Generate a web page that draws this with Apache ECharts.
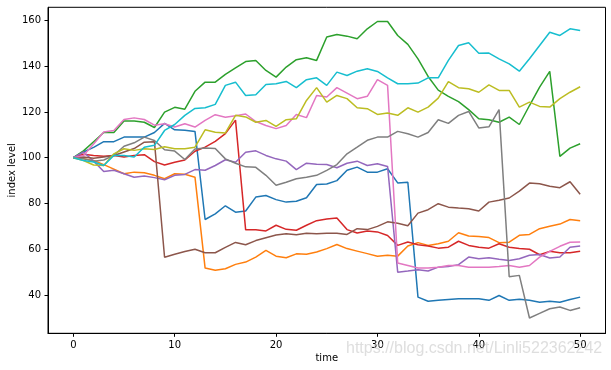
<!DOCTYPE html>
<html>
<head>
<meta charset="utf-8">
<script src="https://cdn.jsdelivr.net/npm/echarts@6/dist/echarts.min.js"></script>
<style>html,body{margin:0;padding:0;background:#fff;}#c{width:611px;height:370px;}</style>
</head>
<body>
<div id="c"></div>
<script>
const time = [0,1,2,3,4,5,6,7,8,9,10,11,12,13,14,15,16,17,18,19,20,21,22,23,24,25,26,27,28,29,30,31,32,33,34,35,36,37,38,39,40,41,42,43,44,45,46,47,48,49,50];
const xTicks = [0,10,20,30,40,50];
const yTicks = [40,60,80,100,120,140,160];

const blue = [100,102.5,104.5,107,107,109,109,109,111,115,112.2,112,111.5,73,75.5,79,76.2,76.7,82.8,83.5,81.7,80.6,81,82.5,88.3,88.5,90,94.5,95.9,93.7,93.7,95.2,89,89.3,39.1,37.3,37.7,38.1,38.4,38.4,38.4,37.7,39.8,37.7,38.2,37.7,36.9,37.3,36.9,38.1,39.1];
const orange = [100,99.6,98.8,97,95,93,93.7,93.4,92.3,90.8,93,92.8,91.5,51.8,50.8,51.5,53.4,54.4,56.6,59.5,57,56.3,58,57.8,58.8,60.3,62.1,60.3,59.2,58.1,57,57.4,57,61.4,62.9,61.7,62.4,63.5,67.2,65.8,65.6,65.1,62.9,63.1,66.1,66.5,69,70.1,71,73,72.5];
const green = [100,103,107,111,111,116,116,115.5,113.2,119.9,122,121.2,129,133,133,136.4,139.2,142,142.5,138.1,135.2,139.6,142.8,143.7,142.5,152.7,153.8,153.1,152,156.3,159.5,159.5,153.4,149.5,143.2,135.5,129.5,126.8,124.5,121,117,116.6,115.5,117.7,114.5,122.8,130.8,137.7,100.6,104.2,106.1];
const red = [100,101.5,101,100.6,101,100.3,101,101.3,98.3,96.8,98,99,102.8,104.6,107.1,110.5,116.4,68.5,68.5,68,70.5,68.7,68.3,70.5,72.5,73.2,73.7,68.6,67.1,68,67.6,66,61.7,63.2,62,61.4,60.5,60.9,63.5,61.7,60.9,60.5,62.4,60.9,60.3,60,57.6,59.1,58.5,58.5,59.1];
const purple = [100,102.5,98.5,94,94.5,93,91.5,92,91.3,90.4,92.3,92.7,94.8,94.5,96.6,99.1,98,102.4,103,101,99.5,98.5,94.8,97.6,97.1,97,95.6,97.6,98.5,96.6,97.4,96.2,50,50.5,51.1,50.5,52.2,52.5,53.3,56.6,55.9,56.3,55.6,55.1,55.9,57.4,57.7,56.2,56.6,60.9,61.4];
const brown = [100,100.3,99.8,100.3,101,102.5,104,106.8,107,56.5,57.8,59,60,58.5,58.5,60.8,63,62,63.8,65,66.2,66.8,66.3,67,66.8,67,67,66.5,69,68.6,70,72,71.4,70.3,75.8,77.3,79.9,78.4,78,77.7,76.7,80.6,81.4,82.4,85.4,88.9,88.6,87.5,86.9,89.5,84];
const pink = [100,101,106,111.2,111.9,116.7,117.4,116.7,114.2,114.8,113.4,114.8,113.4,116.3,118.8,117.7,118.3,119.1,115.8,114.1,112.7,114.1,118.9,117.5,127.2,126.5,130.6,128.2,125.8,126.8,134.1,131.6,54,52.9,51.8,51.8,52.2,52.9,52.9,52.2,52.2,52.2,52.5,52.9,52.2,52.9,56.6,59.1,61.3,63.1,63.2];
const gray = [100,99.5,98.5,99,101,105,106.5,109,107.5,103.5,102.9,99.2,103.8,104.2,104,99.5,97.6,96,95.8,92.3,88,89.3,90.8,91.5,92.3,94.5,97,101.7,104.6,107.6,109,109,111.5,110.5,109,111,116.6,115,118.5,120.2,113,113.5,121,48,48.6,30,32,34,34.8,33.3,34.5];
const olive = [100,98.8,96.8,96.6,101.7,103.9,103.2,103.9,103.6,104.8,103.9,103.9,104.6,112.2,111.1,110.8,118.5,117.8,115.5,116.3,113.7,116.6,117,125,130.6,124.3,127.2,125.8,121.8,121.4,118.9,119.5,118.5,121.8,119.9,122.1,126,133.2,130.6,130.1,128.6,131.8,129.4,129.4,122.1,124.3,122.4,122.1,125.8,128.6,131];
const cyan = [100,98.8,98.1,96.6,101,101,100.3,104.6,105.4,111.9,114.5,118.5,121.5,121.8,123.3,131.6,133,127.2,127.5,132,132.3,133.3,130.6,134.1,134.9,131.6,137.4,135.9,137.8,138.9,137.7,134.9,132.3,132.3,132.6,134.9,134.9,142.5,149,150.2,145.6,145.7,143.2,141,137.8,143.2,149,154.8,153.4,156.3,155.6];

const seriesList = [
  {name:'0', data: blue, color:'#1f77b4'},
  {name:'1', data: orange, color:'#ff7f0e'},
  {name:'2', data: green, color:'#2ca02c'},
  {name:'3', data: red, color:'#d62728'},
  {name:'4', data: purple, color:'#9467bd'},
  {name:'5', data: brown, color:'#8c564b'},
  {name:'6', data: pink, color:'#e377c2'},
  {name:'7', data: gray, color:'#7f7f7f'},
  {name:'8', data: olive, color:'#bcbd22'},
  {name:'9', data: cyan, color:'#17becf'}
];

const chart = echarts.init(document.getElementById('c'), null, {renderer:'canvas'});
const txt = {fontFamily:'DejaVu Sans', fontSize:10, color:'#000'};
chart.setOption({
  animation:false,
  backgroundColor:'#fff',
  grid:{left:48, right:5.5, top:7.3, bottom:36.7, containLabel:false, outerBoundsMode:'none', show:true, borderColor:'#000', borderWidth:1, backgroundColor:'transparent'},
  xAxis:{
    type:'value', min:-2.5, max:52.5,
    name:'time', nameLocation:'middle', nameGap:20, nameMoveOverlap:false,
    nameTextStyle: txt,
    axisLine:{show:true, onZero:false, lineStyle:{color:'#000', width:1}},
    splitLine:{show:false},
    axisTick:{show:true, length:3.5, inside:false, customValues:xTicks, lineStyle:{color:'#000', width:1}},
    axisLabel:{show:true, margin:7, customValues:xTicks, ...txt}
  },
  yAxis:{
    type:'value', min:23.3, max:165.7,
    name:'index level', nameLocation:'middle', nameGap:31, nameRotate:90, nameMoveOverlap:false,
    nameTextStyle: txt,
    axisLine:{show:true, onZero:false, lineStyle:{color:'#000', width:1}},
    splitLine:{show:false},
    axisTick:{show:true, length:3.5, inside:false, customValues:yTicks, lineStyle:{color:'#000', width:1}},
    axisLabel:{show:true, margin:7, customValues:yTicks, ...txt}
  },
  graphic:[{
    type:'text', left:346, top:341, z:100,
    style:{text:'https://blog.csdn.net/Linli522362242', font:'16px "Liberation Sans"', fill:'rgba(200,200,200,0.6)'}
  }],
  series: seriesList.map(s => ({
    name:s.name, type:'line', showSymbol:false, symbol:'none',
    lineStyle:{width:1.5, color:s.color}, itemStyle:{color:s.color},
    data: time.map((t,i) => [t, s.data[i]])
  }))
});
</script>
</body>
</html>
